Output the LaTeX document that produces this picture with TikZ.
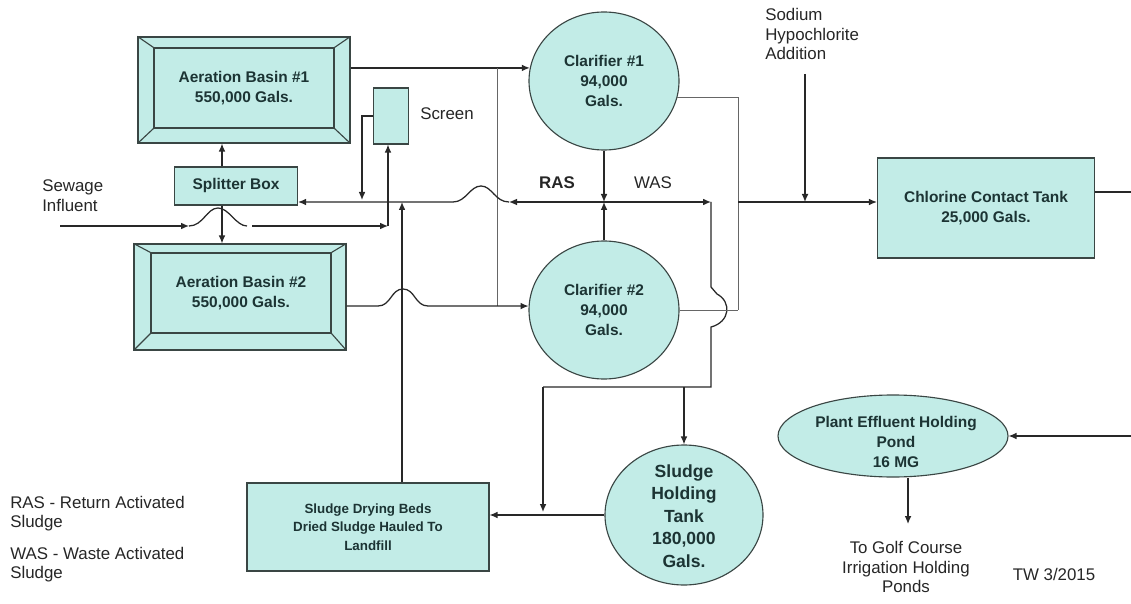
\documentclass[tikz,border=0pt]{standalone}
\usepackage{fontspec}
\setmainfont{Liberation Sans}
\usepackage{tikz}
\usetikzlibrary{arrows.meta,shapes.geometric}

\definecolor{tankfill}{RGB}{194,236,231}
\definecolor{tankline}{RGB}{58,70,68}
\definecolor{tanktext}{RGB}{28,52,52}
\definecolor{pipecol}{RGB}{40,40,40}

\begin{document}
\begin{tikzpicture}[x=0.25mm,y=-0.25mm,
  tank/.style={draw=tankline,fill=tankfill,line width=0.8pt,align=center,inner sep=0pt,
               text=tanktext,font=\fontsize{11}{14.4}\selectfont\bfseries},
  basin/.style={tank,minimum width=53mm,minimum height=26.5mm},
  basinin/.style={tank,minimum width=45mm,minimum height=20mm},
  clar/.style={tank,ellipse,minimum width=37.5mm,minimum height=34.5mm},
  tanktxt/.style={align=center,inner sep=0pt,text=tanktext},
  lbl/.style={align=left,inner sep=0pt,text=black!85,font=\fontsize{12}{14.2}\selectfont},
  flow/.style={line width=0.9pt,draw=pipecol},
  arr/.style={flow,-{Latex[length=2mm,width=1.7mm]}},
  feed/.style={line width=0.7pt,draw=black!60}]
  \useasboundingbox (0,0) rectangle (1131,604);

  % tanks
  \node[basin](ab1) at (244,90) {};
  \node[basinin](ab1i) at (244,88) {Aeration Basin \#1\\550,000 Gals.};
  \node[basin](ab2) at (240,297) {};
  \node[basinin](ab2i) at (241,293) {Aeration Basin \#2\\550,000 Gals.};
  \foreach \c in {north west,north east,south west,south east}{
    \draw[tankline,line width=0.8pt] (ab1.\c) -- (ab1i.\c);
    \draw[tankline,line width=0.8pt] (ab2.\c) -- (ab2i.\c);
  }
  \node[tank,minimum width=30.75mm,minimum height=9.5mm](spl) at (236,186) {Splitter Box};
  \node[tank,minimum width=8.75mm,minimum height=14mm](scr) at (391,116) {};
  \node[clar](cl1) at (604,81)  {Clarifier \#1\\94,000\\Gals.};
  \node[clar](cl2) at (604,310) {Clarifier \#2\\94,000\\Gals.};
  \node[tank,minimum width=54.25mm,minimum height=25mm](cct) at (986,208)
       {Chlorine Contact Tank\\25,000 Gals.};
  \node[tank,ellipse,minimum width=39.5mm,minimum height=35mm](sht) at (684,515) {};
  \node[tanktxt,font=\fontsize{12.5}{16.1}\selectfont\bfseries](sht-t) at (684,516)
       {Sludge\\Holding\\Tank\\180,000\\Gals.};
  \node[tank,minimum width=60.5mm,minimum height=22mm,
        font=\fontsize{9.5}{13.1}\selectfont\bfseries](sdb) at (368,527)
       {Sludge Drying Beds\\Dried Sludge Hauled To\\Landfill};
  \node[tank,ellipse,minimum width=57.5mm,minimum height=20.5mm](pond) at (893,436) {};
  \node[tanktxt,font=\fontsize{11}{14.2}\selectfont\bfseries](pond-t) at (896,442)
       {Plant Effluent Holding\\Pond\\16 MG};

  % labels
  \node[lbl,anchor=west](sew) at (42,196) {Sewage\\Influent};
  \node[lbl,anchor=west](naocl-t) at (765,34) {Sodium\\Hypochlorite\\Addition};
  \node[lbl](scr-t) at (447,114) {Screen};
  \node[lbl,font=\fontsize{12}{14}\selectfont\bfseries](ras-t) at (557,183) {RAS};
  \node[lbl](was-t) at (653,183) {WAS};
  \node[lbl,align=center](golf) at (906,567) {To Golf Course\\Irrigation Holding\\Ponds};
  \node[lbl](tw) at (1054,574) {TW 3/2015};
  \node[lbl,anchor=west,font=\fontsize{12}{13.5}\selectfont](key1) at (10,514)
       {RAS - Return Activated\\Sludge};
  \node[lbl,anchor=west,font=\fontsize{12}{13.5}\selectfont](key2) at (10,565)
       {WAS - Waste Activated\\Sludge};

  % free ends and junctions
  \coordinate (inf) at (60,226);
  \coordinate (jn) at (604,202);
  \coordinate (was) at (711,202);
  \coordinate (ret) at (402,202);
  \coordinate (tieA) at (497,68);
  \coordinate (tieB) at (497,306);
  \coordinate (naocl) at (805,74);
  \coordinate (eff) at (1131,192);
  \coordinate (effin) at (1131,436);
  \coordinate (golfarr) at (908,524);

  % influent to screen, splitter to basins
  \draw[arr](inf) -- (189,226);
  \draw[flow](189,226) .. controls (203,226) and (207,208) .. (218,208)
             .. controls (229,208) and (236,226) .. (247,226);
  \draw[arr](252,226) -- (388,226);
  \draw[arr](388,226) -- (scr.south -| 388,0);
  \draw[arr](scr.west) -| (362,200);
  \draw[arr](spl.north -| 222,0) -- (ab1.south -| 222,0);
  \draw[arr](spl.south -| 222,0) -- (ab2.north -| 222,0);

  % basins to clarifiers
  \draw[arr](ab1.east |- cl1.170) -- (cl1.170);
  \draw[feed](tieA) -- (tieB);
  \draw[arr](ab2.east |- cl2.177) -- (378,306) .. controls (391,306) and (391,289) .. (403,289)
            .. controls (415,289) and (415,306) .. (428,306) -- (cl2.177);

  % RAS / WAS
  \draw[arr](cl1.south) -- (jn);
  \draw[arr](cl2.north) -- (jn);
  \draw[arr](jn) -- (509,202);
  \draw[arr](509,202) .. controls (495,202) and (492,186) .. (481,186)
            .. controls (470,186) and (466,202) .. (453,202) -- (spl.east |- jn);
  \draw[arr](sdb.north -| ret) -- (ret);
  \draw[arr](jn) -- (was);
  \draw[flow](was) -- (711,287) -- (717,294) .. controls (732,302) and (730,322) .. (711,327)
             -- (711,387) -- (543,387);
  \draw[arr](543,387) -- (543,512);
  \draw[arr](sht.north |- 0,387) -- (sht.north);
  \draw[arr](sht.west) -- (sdb.east |- sht.west);

  % clarifier effluent to chlorine contact tank
  \draw[feed](cl1.347) -| (738,310);
  \draw[feed](cl2.east) -- (738,310);
  \draw[arr](738,202) -- (cct.west |- jn);
  \draw[arr](naocl) -- (naocl |- jn);
  \draw[flow](cct.east |- eff) -- (eff);
  \draw[arr](effin) -- (pond.east);
  \draw[arr](pond.south -| golfarr) -- (golfarr);
\end{tikzpicture}
\end{document}
